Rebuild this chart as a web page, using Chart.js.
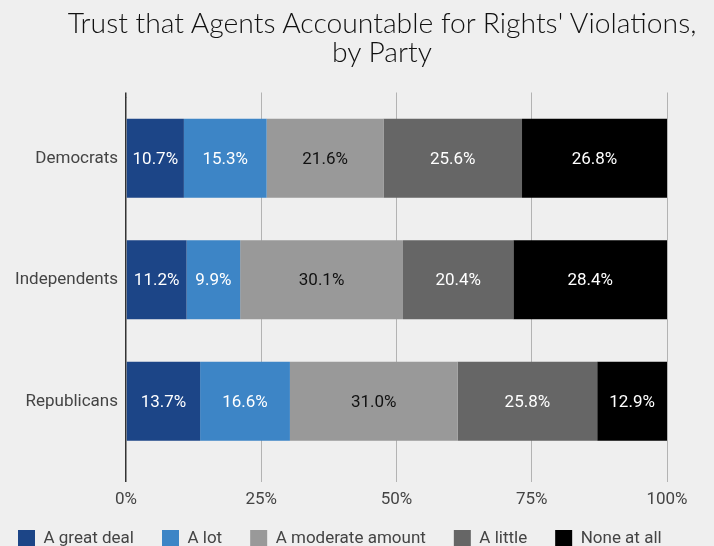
<!DOCTYPE html>
<html>
<head>
<meta charset="utf-8">
<script src="https://cdn.jsdelivr.net/npm/chart.js@4"></script>
<style>
  html,body{margin:0;padding:0;background:#efefef;}
  #wrap{position:relative;width:714px;height:546px;}
  #title{position:absolute;left:50px;width:664px;top:8px;text-align:center;font-family:Lato,"Open Sans",sans-serif;font-weight:300;font-size:28.3px;line-height:29px;color:#111;}
  canvas{position:absolute;left:0;top:0;}
</style>
</head>
<body>
<div id="wrap">
<canvas id="c" width="714" height="546"></canvas>
<div id="title">Trust that Agents Accountable for Rights' Violations,<br>by Party</div>
</div>
<script>
const categories = ["Democrats", "Independents", "Republicans"];
const seriesNames = ["A great deal", "A lot", "A moderate amount", "A little", "None at all"];
const greatDeal = [10.7, 11.2, 13.7];
const aLot = [15.3, 9.9, 16.6];
const moderate = [21.6, 30.1, 31.0];
const aLittle = [25.6, 20.4, 25.8];
const noneAtAll = [26.8, 28.4, 12.9];
const xTicks = [0, 25, 50, 75, 100];

const colors = ["#1c4587", "#3d85c6", "#999999", "#666666", "#000000"];
const labelColors = ["#ffffff", "#ffffff", "#111111", "#ffffff", "#ffffff"];
const seriesValues = [greatDeal, aLot, moderate, aLittle, noneAtAll];

const labelPlugin = {
  id: 'barLabels',
  afterDatasetsDraw(chart) {
    const ctx = chart.ctx;
    ctx.save();
    ctx.font = '17px Roboto';
    ctx.textAlign = 'center';
    ctx.textBaseline = 'middle';
    chart.data.datasets.forEach((ds, i) => {
      const meta = chart.getDatasetMeta(i);
      meta.data.forEach((el, j) => {
        const p = el.getCenterPoint();
        ctx.fillStyle = labelColors[i];
        ctx.fillText(ds.data[j].toFixed(1) + '%', p.x, p.y + 1);
      });
    });
    ctx.restore();
  }
};

const gridColor = (c) => (c.tick && c.tick.value === 0) ? '#333333' : '#b3b3b3';

new Chart(document.getElementById('c'), {
  type: 'bar',
  data: {
    labels: categories,
    datasets: seriesNames.map((n, i) => ({
      label: n,
      data: seriesValues[i],
      backgroundColor: colors[i],
      borderWidth: 0,
      barPercentage: 0.65,
      categoryPercentage: 1.0,
      xAxisID: 'x',
      yAxisID: 'y'
    }))
  },
  options: {
    indexAxis: 'y',
    responsive: false,
    animation: false,
    layout: { padding: { left: -10, right: 0, top: 92.5, bottom: -11 } },
    scales: {
      x: {
        stacked: true,
        min: 0, max: 100,
        position: 'bottom',
        afterBuildTicks: (s) => { s.ticks = xTicks.map(v => ({ value: v })); },
        ticks: { callback: (v) => v + '%', color: '#444', font: { family: 'Roboto', size: 17 }, padding: 8 },
        grid: { color: gridColor, lineWidth: (c) => (c.tick && c.tick.value === 0) ? 1.5 : 1, tickLength: 20, drawTicks: true },
        border: { display: false },
        afterFit: (s) => { s.height = 40; },
        afterUpdate: (s) => { s._computeLabelArea = () => undefined; }
      },
      x2: {
        min: 0, max: 100,
        position: 'top',
        afterBuildTicks: (s) => { s.ticks = xTicks.map(v => ({ value: v })); },
        ticks: { display: false },
        grid: { color: gridColor, lineWidth: (c) => (c.tick && c.tick.value === 0) ? 1.5 : 1, tickLength: 5, drawOnChartArea: false },
        border: { display: false },
        afterFit: (s) => { s.height = 5; }
      },
      y: {
        stacked: true,
        ticks: { color: '#444', font: { family: 'Roboto', size: 17 }, padding: 8 },
        grid: { display: false, drawTicks: false },
        border: { display: false },
        afterFit: (s) => { s.width = 136; }
      },
      y2: {
        type: 'category',
        position: 'right',
        ticks: { display: false },
        grid: { display: false, drawTicks: false },
        border: { display: false },
        afterFit: (s) => { s.width = 47; }
      }
    },
    plugins: {
      title: { display: false },
      tooltip: { enabled: false },
      legend: {
        position: 'bottom',
        align: 'start',
        labels: {
          boxWidth: 17, boxHeight: 17, padding: 28,
          color: '#444', font: { family: 'Roboto', size: 17 }
        }
      }
    }
  },
  plugins: [labelPlugin]
});
</script>
</body>
</html>
